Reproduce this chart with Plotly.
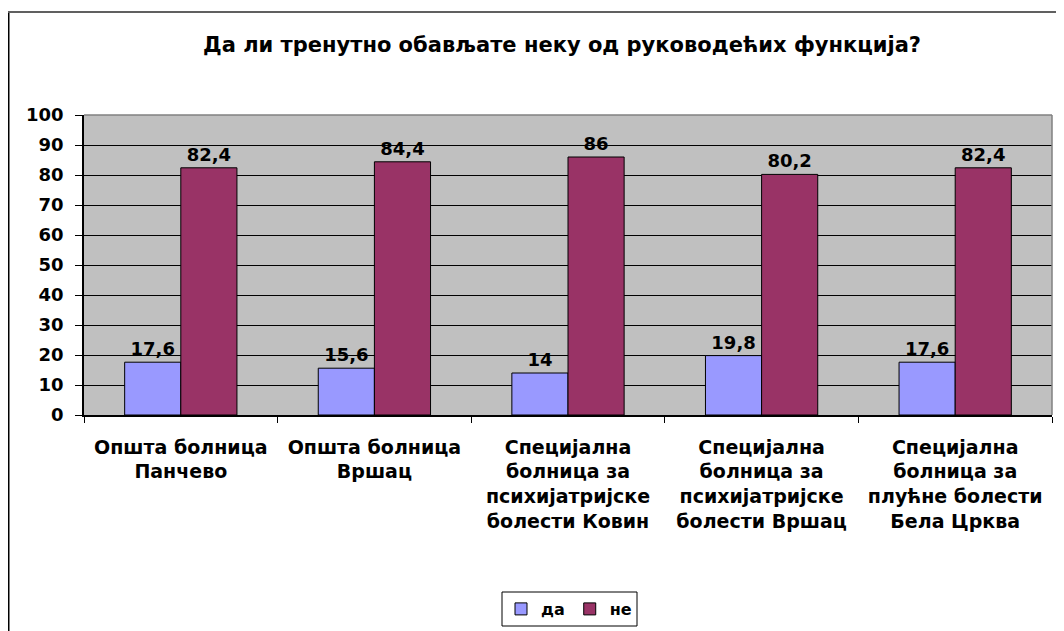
import plotly.graph_objects as go

categories = [
    "Општа болница<br>Панчево",
    "Општа болница<br>Вршац",
    "Специјална<br>болница за<br>психијатријске<br>болести Ковин",
    "Специјална<br>болница за<br>психијатријске<br>болести Вршац",
    "Специјална<br>болница за<br>плућне болести<br>Бела Црква",
]
da_values = [17.6, 15.6, 14, 19.8, 17.6]
ne_values = [82.4, 84.4, 86, 80.2, 82.4]
y_ticks = [0, 10, 20, 30, 40, 50, 60, 70, 80, 90, 100]
title_text = "Да ли тренутно обављате неку од руководећих функција?"

FONT = "DejaVu Sans, Verdana, sans-serif"
OFF = 8  # page body margin
W, H = 1064 - OFF, 631 - OFF
L, T = 84 - OFF, 115 - OFF
R = W - (1052 - OFF)
B = H - (415 - OFF)
PW = W - L - R
PH = H - T - B


def fmt(v):
    return f"{v:g}".replace(".", ",")


def px(xs):
    return (xs - OFF - L) / PW


def py(ys):
    return (H - B - (ys - OFF)) / PH


fig = go.Figure()
for name, vals, color in [("да", da_values, "#9999FF"), ("не", ne_values, "#993366")]:
    fig.add_trace(go.Bar(
        x=categories, y=vals, name=name,
        marker=dict(color=color, line=dict(color="black", width=1)),
        text=[fmt(v) for v in vals], textposition="outside",
        textfont=dict(family=FONT, size=18, color="black", weight="bold"),
        constraintext="none", cliponaxis=False,
    ))

shapes = [
    dict(type="line", xref="paper", yref="paper", x0=px(8.5), x1=px(8.5), y0=py(12), y1=py(700),
         line=dict(color="black", width=2)),
    dict(type="line", xref="paper", yref="paper", x0=px(8), x1=px(1100), y0=py(12), y1=py(12),
         line=dict(color="#606060", width=2)),
    dict(type="line", xref="paper", yref="paper", x0=0, x1=1, y0=1, y1=1,
         line=dict(color="#808080", width=1.5), layer="above"),
    dict(type="line", xref="paper", yref="paper", x0=1, x1=1, y0=0, y1=1,
         line=dict(color="#808080", width=1.5), layer="above"),
    # legend frame
    dict(type="rect", xref="paper", yref="paper", x0=px(502), x1=px(637), y0=py(626), y1=py(592),
         line=dict(color="black", width=1), fillcolor="rgba(0,0,0,0)"),
]

fig.update_layout(
    width=W, height=H,
    margin=dict(l=L, r=R, t=T, b=B, autoexpand=False),
    paper_bgcolor="white", plot_bgcolor="#C0C0C0",
    barmode="group", bargap=0.42, bargroupgap=0,
    title=dict(text=title_text, x=(562 - OFF) / W, xanchor="center", y=1 - (45 - OFF) / H,
               yanchor="middle",
               font=dict(family=FONT, size=21, color="black", weight="bold")),
    font=dict(family=FONT, color="black"),
    legend=dict(orientation="h", x=px(569), xanchor="center", y=py(609), yanchor="middle",
                borderwidth=0, bgcolor="rgba(0,0,0,0)",
                font=dict(family=FONT, size=16, color="black", weight="bold"),
                itemwidth=30, tracegroupgap=0),
    shapes=shapes,
    showlegend=True,
)
fig.update_yaxes(range=[0, 100], tickvals=y_ticks, showgrid=True, gridcolor="black", gridwidth=1,
                 showline=True, linecolor="black", linewidth=1.5, ticks="outside", ticklen=7,
                 tickcolor="black", ticklabelstandoff=8, automargin=False,
                 tickfont=dict(family=FONT, size=18, color="black", weight="bold"),
                 zeroline=False, fixedrange=True)
fig.update_xaxes(showline=True, linecolor="black", linewidth=1.5, ticks="outside", ticklen=6,
                 tickcolor="black", tickson="boundaries", ticklabelstandoff=14, automargin=False,
                 tickfont=dict(family=FONT, size=19, color="black", weight="bold"),
                 fixedrange=True)

fig.write_html("out.html")
